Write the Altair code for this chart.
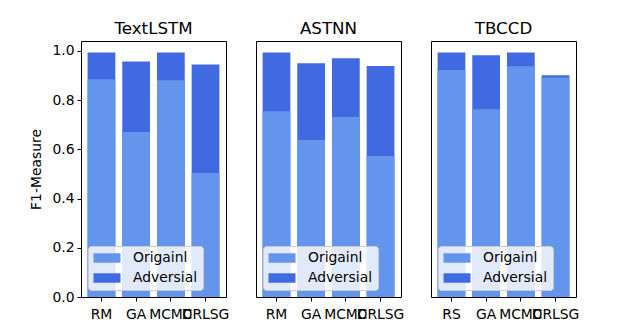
import altair as alt
import pandas as pd

FONT = "DejaVu Sans"

panel_titles = ["TextLSTM", "ASTNN", "TBCCD"]
methods_textlstm = ["RM", "GA", "MCMC", "DRLSG"]
methods_astnn = ["RM", "GA", "MCMC", "DRLSG"]
methods_tbccd = ["RS", "GA", "MCMC", "DRLSG"]

# light bars (Origainl) and dark bars (Adversial, full height)
orig_textlstm = [0.885, 0.670, 0.881, 0.504]
adv_textlstm = [0.993, 0.957, 0.993, 0.945]
orig_astnn = [0.755, 0.638, 0.731, 0.573]
adv_astnn = [0.993, 0.950, 0.970, 0.938]
orig_tbccd = [0.922, 0.763, 0.937, 0.892]
adv_tbccd = [0.993, 0.982, 0.993, 0.901]

series_names = ["Origainl", "Adversial"]
series_colors = ["#6495ED", "#4169E1"]


def panel(title, methods, orig, adv, first):
    rows = []
    for m, v in zip(methods, adv):
        rows.append({"method": m, "series": "Adversial", "value": v})
    for m, v in zip(methods, orig):
        rows.append({"method": m, "series": "Origainl", "value": v})
    df = pd.DataFrame(rows)
    if first:
        yaxis = alt.Axis(
            title="F1-Measure",
            values=[0, 0.2, 0.4, 0.6, 0.8, 1.0],
            format=".1f",
            grid=False,
            domain=False,
            tickSize=4,
            tickColor="black",
            labelColor="black",
            labelFontSize=13.9,
            labelFont=FONT,
            labelPadding=3,
            titleFont=FONT,
            titleFontSize=13.9,
            titleFontWeight="normal",
            titleColor="black",
            titlePadding=8,
        )
    else:
        yaxis = None
    y = alt.Y("value:Q", scale=alt.Scale(domain=[0, 1.04], nice=False, zero=True),
              stack=None, axis=yaxis)
    return (
        alt.Chart(df, title=alt.TitleParams(title, font=FONT, fontSize=16.7,
                                            fontWeight="normal", color="black", offset=3))
        .mark_bar(opacity=1)
        .encode(
            x=alt.X(
                "method:N",
                sort=methods,
                scale=alt.Scale(paddingInner=0.2, paddingOuter=0.19),
                axis=alt.Axis(
                    title=None,
                    labelAngle=0,
                    domain=False,
                    tickSize=4,
                    tickColor="black",
                    labelColor="black",
                    labelFontSize=13.9,
                    labelFont=FONT,
                    labelOverlap=False,
                    labelPadding=6,
                ),
            ),
            y=y,
            color=alt.Color(
                "series:N",
                scale=alt.Scale(domain=series_names, range=series_colors),
                legend=alt.Legend(
                    title=None,
                    orient="bottom-left",
                    offset=7,
                    fillColor="rgba(255,255,255,0.8)",
                    strokeColor="#cccccc",
                    cornerRadius=3,
                    padding=5,
                    labelFont=FONT,
                    labelFontSize=13.9,
                    labelColor="black",
                    labelOffset=19,
                    symbolOffset=7,
                    rowPadding=6,
                    symbolType="M-2,-0.7H2V0.7H-2Z",
                    symbolSize=182,
                    symbolStrokeWidth=0,
                    symbolOpacity=1,
                ),
            ),
        )
        .properties(width=145, height=256)
    )


chart = (
    alt.hconcat(
        panel(panel_titles[0], methods_textlstm, orig_textlstm, adv_textlstm, True),
        panel(panel_titles[1], methods_astnn, orig_astnn, adv_astnn, False),
        panel(panel_titles[2], methods_tbccd, orig_tbccd, adv_tbccd, False),
        spacing=30,
        bounds="flush",
    )
    .resolve_scale(color="independent")
    .resolve_legend(color="independent")
    .properties(padding={"left": 21, "top": 12, "right": 5, "bottom": 2})
    .configure(background="white")
    .configure_view(stroke="black", strokeWidth=1)
)

chart.save("out.html", embed_options={"renderer": "svg", "actions": False})
